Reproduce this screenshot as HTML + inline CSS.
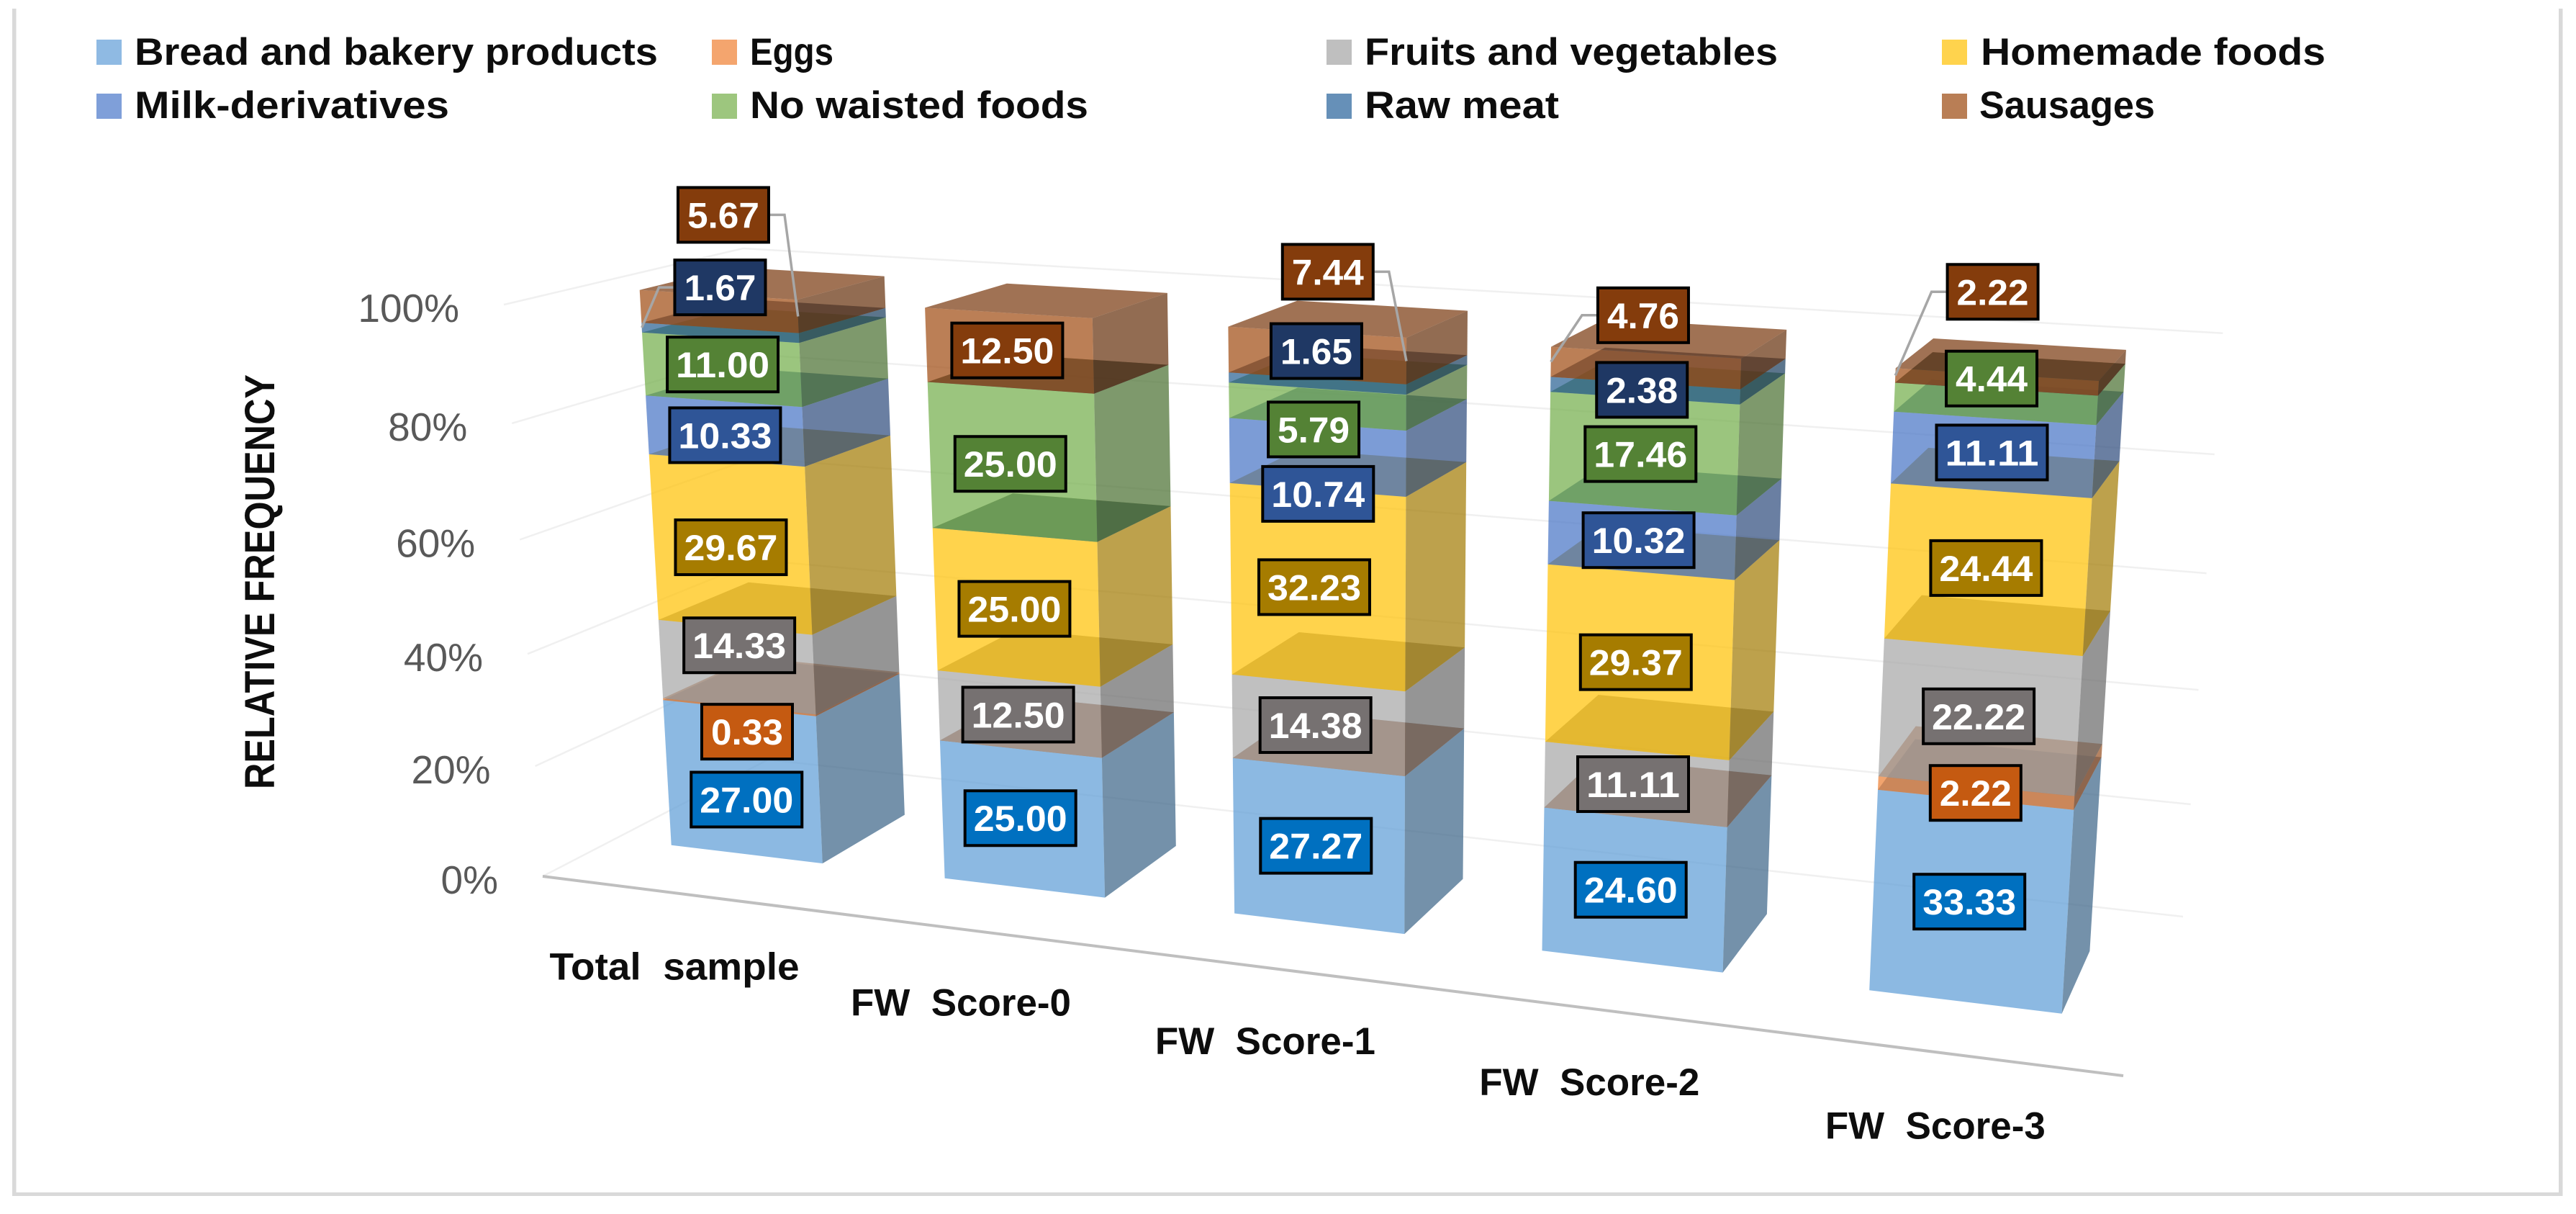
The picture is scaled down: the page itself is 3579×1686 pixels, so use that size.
<!DOCTYPE html>
<html lang="en">
<head>
<meta charset="utf-8">
<title>Relative frequency of wasted foods by FW score</title>
<style>
  html, body { margin: 0; padding: 0; background: #fff; }
  svg { display: block; font-family: "Liberation Sans", "DejaVu Sans", sans-serif; }
</style>
</head>
<body>
<svg id="chart" xmlns="http://www.w3.org/2000/svg" width="3579" height="1686" viewBox="0 0 3579 1686">
  <rect x="0" y="0" width="3579" height="1686" fill="#ffffff"/>
  <rect x="17" y="12" width="5.5" height="1649" fill="#D9D9D9"/>
  <rect x="3555" y="12" width="5.5" height="1649" fill="#D9D9D9"/>
  <rect x="17" y="1656" width="3543" height="5" fill="#D9D9D9"/>

  <g font-weight="700" font-size="53" fill="#0D0D0D">
    <g><rect x="134" y="55" width="35" height="35" fill="#8FBAE3"/><text x="187" y="90" textLength="727" lengthAdjust="spacingAndGlyphs">Bread and bakery products</text></g>
    <g><rect x="989" y="55" width="35" height="35" fill="#F4A56E"/><text x="1042" y="90" textLength="116" lengthAdjust="spacingAndGlyphs">Eggs</text></g>
    <g><rect x="1843" y="55" width="35" height="35" fill="#BFBFBF"/><text x="1896" y="90" textLength="574" lengthAdjust="spacingAndGlyphs">Fruits and vegetables</text></g>
    <g><rect x="2698" y="55" width="35" height="35" fill="#FFD34D"/><text x="2752" y="90" textLength="479" lengthAdjust="spacingAndGlyphs">Homemade foods</text></g>
    <g><rect x="134" y="130" width="35" height="35" fill="#7F9FD9"/><text x="187" y="164" textLength="437" lengthAdjust="spacingAndGlyphs">Milk-derivatives</text></g>
    <g><rect x="989" y="130" width="35" height="35" fill="#9DC67E"/><text x="1042" y="164" textLength="470" lengthAdjust="spacingAndGlyphs">No waisted foods</text></g>
    <g><rect x="1843" y="130" width="35" height="35" fill="#6690B8"/><text x="1896" y="164" textLength="270" lengthAdjust="spacingAndGlyphs">Raw meat</text></g>
    <g><rect x="2698" y="130" width="35" height="35" fill="#B97E55"/><text x="2750" y="164" textLength="244" lengthAdjust="spacingAndGlyphs">Sausages</text></g>
  </g>

  <text transform="translate(381 1096) rotate(-90)" font-size="58" font-weight="700" fill="#0D0D0D" textLength="576" lengthAdjust="spacingAndGlyphs">RELATIVE FREQUENCY</text>

  <g id="grid"></g>
  <g id="ticks"></g>
  <g id="bars"></g>
  <g id="cats"></g>
  <g id="leaders"></g>
  <g id="labels"></g>
</svg>

<script>
const categories = ["Total  sample", "FW  Score-0", "FW  Score-1", "FW  Score-2", "FW  Score-3"];
const seriesNames = ["bread", "eggs", "fruits", "homemade", "milk", "no-waste", "raw-meat", "sausages"];
const bread    = [27.00, 25.00, 27.27, 24.60, 33.33];
const eggs     = [0.33, 0, 0, 0, 2.22];
const fruits   = [14.33, 12.50, 14.38, 11.11, 22.22];
const homemade = [29.67, 25.00, 32.23, 29.37, 24.44];
const milk     = [10.33, 0, 10.74, 10.32, 11.11];
const noWaste  = [11.00, 25.00, 5.79, 17.46, 4.44];
const rawMeat  = [1.67, 0, 1.65, 2.38, 0];
const sausages = [5.67, 12.50, 7.44, 4.76, 2.22];
const yTicks   = [0, 20, 40, 60, 80, 100];

const allSeries = [bread, eggs, fruits, homemade, milk, noWaste, rawMeat, sausages];
const baseColors = [[91,155,213],[237,125,49],[165,165,165],[255,192,0],[68,114,196],[112,173,71],[37,94,145],[158,72,14]];
const labelFills = ["#0070C0","#C55A11","#767171","#A67C00","#2F5597","#548235","#1F3864","#843C0C"];

const SVGNS = "http://www.w3.org/2000/svg";

/* Perspective projection of the plot cube: u along categories, v value 0..1, w depth */
function project(u, v, w) {
  const d = 1 - 0.1456 * u - 0.0452 * v + 0.1231 * w;
  return [
    (754 + 1766.5 * u - 85.6 * v + 444.3 * w) / d,
    (1217 + 59.5 * u - 813 * v - 32.1 * w) / d
  ];
}
const FRONT = 0.3, BACK = 0.7, HALF = 0.056;
function catCenter(i) { return (i + 0.5) / categories.length - 0.002; }
function valueScale(v) { return v / 100; }

function node(tag, attrs) {
  const el = document.createElementNS(SVGNS, tag);
  for (const k in attrs) el.setAttribute(k, attrs[k]);
  return el;
}
function pts(list) { return list.map(p => p[0].toFixed(1) + "," + p[1].toFixed(1)).join(" "); }
function rgb(c, f) { return "rgb(" + c.map(x => Math.round(x * f)).join(",") + ")"; }

/* Gridlines */
const gridG = document.getElementById("grid");
yTicks.forEach(t => {
  const v = valueScale(t);
  const line = node("polyline", {
    points: pts([project(0, v, 0), project(0, v, 1), project(1, v, 1)]),
    fill: "none", stroke: "#F0F0F0", "stroke-width": 2.5
  });
  
  
  gridG.appendChild(line);
});
const axisLine = node("line", {
  x1: project(0,0,0)[0], y1: project(0,0,0)[1], x2: project(1,0,0)[0], y2: project(1,0,0)[1],
  stroke: "#BFBFBF", "stroke-width": 4
});


gridG.appendChild(axisLine);

/* Y ticks */
const tickG = document.getElementById("ticks");
yTicks.forEach(t => {
  const p = project(0, valueScale(t), 0);
  const tx = node("text", { x: p[0] - 62, y: p[1] + 24, "text-anchor": "end", "font-size": 55, fill: "#595959" });
  
  
  tx.textContent = t + "%";
  tickG.appendChild(tx);
});

/* Stacked bars */
const barsG = document.getElementById("bars");
const stackInfo = [];
categories.forEach((cat, c) => {
  const total = allSeries.reduce((a, s) => a + s[c], 0);
  const u = catCenter(c);
  const L = u - HALF, R = u + HALF;
  const barG = node("g", {});
  
  
  let cum = 0;
  stackInfo[c] = [];
  allSeries.forEach((s, k) => {
    const v0 = cum / total;
    cum += s[c];
    const v1 = cum / total;
    stackInfo[c][k] = { mid: (v0 + v1) / 2, value: s[c] };
    const col = baseColors[k];
    const seg = node("g", {});
    
    
    const front = node("polygon", {
      points: pts([project(L,v0,FRONT), project(R,v0,FRONT), project(R,v1,FRONT), project(L,v1,FRONT)]),
      fill: rgb(col,1), "fill-opacity": 0.7
    });
    
    
    seg.appendChild(front);
    const side = node("polygon", {
      points: pts([project(R,v0,FRONT), project(R,v0,BACK), project(R,v1,BACK), project(R,v1,FRONT)]),
      fill: rgb(col,0.63), "fill-opacity": 0.7
    });
    
    
    seg.appendChild(side);
    const top = node("polygon", {
      points: pts([project(L,v1,FRONT), project(R,v1,FRONT), project(R,v1,BACK), project(L,v1,BACK)]),
      fill: rgb(col,0.75), "fill-opacity": 0.7
    });
    
    
    seg.appendChild(top);
    barG.appendChild(seg);
  });
  barsG.appendChild(barG);
});

/* Category labels */
const catG = document.getElementById("cats");
const catWidths = { long: 347, short: 306 };
categories.forEach((cat, c) => {
  const p = project(catCenter(c), 0, 0);
  const width = c === 0 ? catWidths.long : catWidths.short;
  const tx = node("text", {
    x: p[0] - 3.5, y: p[1] + 120, "text-anchor": "middle", "font-size": 53, "font-weight": 700, fill: "#0D0D0D",
    textLength: width, lengthAdjust: "spacingAndGlyphs"
  });
  
  
  tx.setAttribute('xml:space', 'preserve');
  tx.style.whiteSpace = "pre";
  tx.textContent = cat;
  catG.appendChild(tx);
});

/* Manually dragged data-label placement, relative to each segment's centre */
function labelNudge(c, k) {
  const table = [
    [[2,25],[8,34],[0,-30],[-3,4],[-3,6],[-2,-7],[-3,-63],[3,-134]],
    [[-6,-1],[0,0],[-5,1],[-6,2.5],[0,0],[-6,3],[0,0],[-6,0]],
    [[-7,0],[0,0],[-7,0],[-8,0],[-2,51],[-8,32],[-4,-45],[12,-116]],
    [[-7,0],[0,0],[-7,0],[-7,0],[-7,0],[-7,1],[-7,-1],[-6,-73]],
    [[-4,0],[-3,0],[-4,-1],[-4,-2],[-4,-3],[-8,-35],[0,0],[-8,-125]]
  ];
  return table[c][k];
}

/* Leader lines: which labels have one, which side it leaves from, and which bar corner it reaches */
function leaderSpec(c, k) {
  if (c === 0 && k === 7) return { dir: 1, corner: 1 };
  if (c === 0 && k === 6) return { dir: -1, corner: -1 };
  if (c === 2 && k === 7) return { dir: 1, corner: 1 };
  if (c === 3 && k === 7) return { dir: -1, corner: -1 };
  if (c === 4 && k === 7) return { dir: -1, corner: -1 };
  return null;
}

const labelG = document.getElementById("labels");
const leaderG = document.getElementById("leaders");
categories.forEach((cat, c) => {
  const u = catCenter(c);
  allSeries.forEach((s, k) => {
    const info = stackInfo[c][k];
    if (!info.value) return;
    const text = info.value.toFixed(2);
    const anchor = project(u, info.mid, FRONT);
    const n = labelNudge(c, k);
    const cx = anchor[0] + n[0] + 3.5, cy = anchor[1] + n[1];
    const wide = text.length > 4;
    const bw = wide ? 158 : 130, bh = 80;

    const spec = leaderSpec(c, k);
    if (spec) {
      const edge = cx + spec.dir * bw / 2;
      const elbow = edge + spec.dir * 20;
      const end = project(u + spec.corner * HALF, info.mid, FRONT);
      const lead = node("polyline", {
        points: pts([[edge, cy], [elbow, cy], end]),
        fill: "none", stroke: "#A6A6A6", "stroke-width": 3.5
      });
      
      
      leaderG.appendChild(lead);
    }

    const g = node("g", {});
    
    
    const box = node("rect", {
      x: cx - bw / 2 + 2, y: cy - bh / 2 + 2, width: bw - 4, height: bh - 4,
      fill: labelFills[k], stroke: "#000000", "stroke-width": 4
    });
    
    
    g.appendChild(box);
    const tx = node("text", {
      x: cx, y: cy + 18, "text-anchor": "middle", "font-size": 50, "font-weight": 700, fill: "#FFFFFF",
      textLength: wide ? 130 : 100, lengthAdjust: "spacingAndGlyphs"
    });
    
    
    tx.textContent = text;
    g.appendChild(tx);
    labelG.appendChild(g);
  });
});
</script>
</body>
</html>
